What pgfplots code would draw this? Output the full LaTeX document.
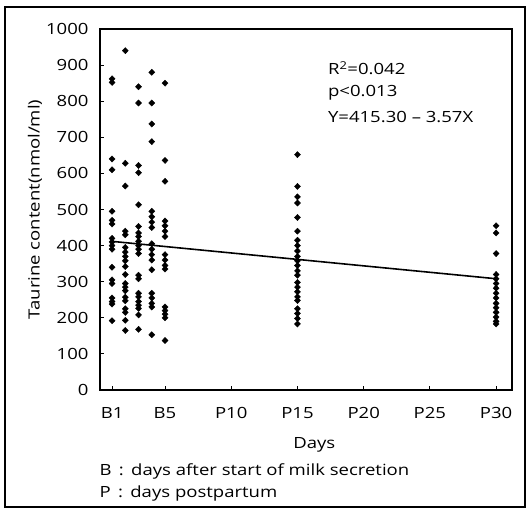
\documentclass[border=0pt]{standalone}
\usepackage{pgfplots}
\pgfplotsset{compat=1.18}
\usepackage{fontspec}
\setmainfont[FakeStretch=1.2]{Open Sans}
\newcommand{\lblfont}{\fontsize{15.5}{18}\selectfont}
\pgfplotsset{dot/.style={black, only marks, mark=diamond*, mark size=3.1pt, mark options={xscale=1.3}}}
\begin{document}
\begin{tikzpicture}
\path (-100bp,-120bp) rectangle (428bp,390bp);
\draw[line width=1.4pt] (-95bp,-117bp) rectangle (425bp,383bp);
\begin{axis}[
    scale only axis,
    width=412bp, height=361bp,
    xmin=0.09, xmax=31.2,
    ymin=0, ymax=1000,
    axis line style={line width=1.2pt},
    xtick={1,5,10,15,20,25,30},
    xticklabels={B1,B5,P10,P15,P20,P25,P30},
    ytick={0,100,...,1000},
    major tick length=4bp,
    tick style={line width=1pt, black},
    tick align=inside,
    xtick pos=bottom, ytick pos=left,
    /pgf/number format/assume math mode=true,
    /pgf/number format/1000 sep={},
    tick label style={font=\lblfont},
    xticklabel style={yshift=-14pt},
    yticklabel style={xshift=-8pt},
    xlabel={Days},
    xlabel style={font=\lblfont, at={(axis description cs:0.52,0)}, anchor=center, yshift=-55bp},
    ylabel={Taurine content(nmol/ml)},
    ylabel style={font=\lblfont, at={(axis description cs:-0.158,0.5)}, anchor=center},
]
% B1 .. B5 (days after start of milk secretion)
\addplot[dot] coordinates {(1,862) (1,852) (1,640) (1,610) (1,495) (1,470) (1,460) (1,420) (1,410) (1,400) (1,390) (1,340) (1,305) (1,295) (1,255) (1,245) (1,238) (1,192)};
\addplot[dot] coordinates {(2,940) (2,628) (2,565) (2,440) (2,430) (2,395) (2,382) (2,370) (2,358) (2,342) (2,320) (2,295) (2,285) (2,275) (2,257) (2,247) (2,225) (2,215) (2,193) (2,165)};
\addplot[dot] coordinates {(3,840) (3,795) (3,622) (3,602) (3,513) (3,453) (3,435) (3,425) (3,412) (3,400) (3,390) (3,378) (3,318) (3,308) (3,268) (3,258) (3,245) (3,235) (3,226) (3,208) (3,168)};
\addplot[dot] coordinates {(4,880) (4,795) (4,737) (4,688) (4,495) (4,480) (4,465) (4,450) (4,405) (4,390) (4,375) (4,360) (4,333) (4,268) (4,255) (4,240) (4,230) (4,153)};
\addplot[dot] coordinates {(5,850) (5,636) (5,578) (5,468) (5,455) (5,440) (5,425) (5,375) (5,360) (5,345) (5,335) (5,230) (5,220) (5,210) (5,200) (5,137)};
% P15, P30 (days postpartum)
\addplot[dot] coordinates {(15,652) (15,564) (15,535) (15,518) (15,478) (15,440) (15,415) (15,400) (15,385) (15,370) (15,358) (15,345) (15,330) (15,318) (15,298) (15,285) (15,272) (15,258) (15,248) (15,225) (15,212) (15,198) (15,183)};
\addplot[dot] coordinates {(30,455) (30,435) (30,378) (30,320) (30,308) (30,295) (30,282) (30,268) (30,255) (30,240) (30,228) (30,215) (30,202) (30,190) (30,183)};
% regression Y = 415.30 - 3.57X
\addplot[black, no marks, sharp plot, line width=1.6pt] coordinates {(1,411.73) (30,308.2)};
\node[anchor=west, font=\lblfont] at (axis description cs:0.545,0.891) {R\textsuperscript{2}=0.042};
\node[anchor=west, font=\lblfont] at (axis description cs:0.545,0.822) {p<0.013};
\node[anchor=west, font=\lblfont] at (axis description cs:0.545,0.756) {Y=415.30 – 3.57X};
\end{axis}
\node[anchor=west, font=\lblfont] at (-4bp,-81bp) {B \,:\, days\ after\ start\ of\ milk\ secretion};
\node[anchor=west, font=\lblfont] at (-4bp,-103bp) {P \,:\, days\ postpartum};
\end{tikzpicture}
\end{document}
